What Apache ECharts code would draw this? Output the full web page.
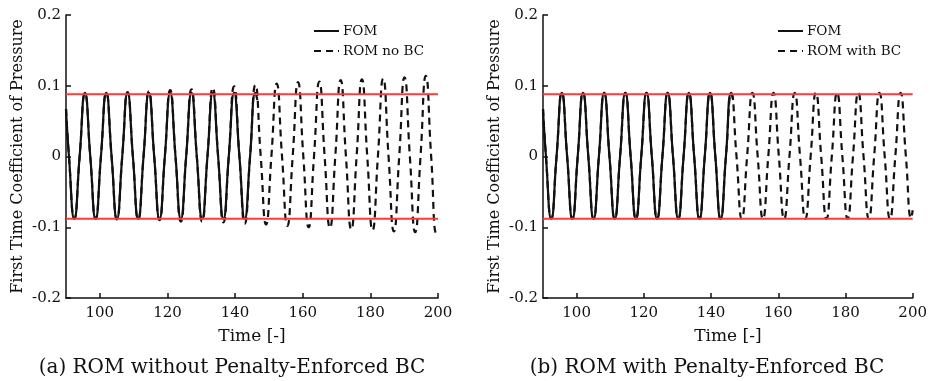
<!DOCTYPE html>
<html>
<head>
<meta charset="utf-8">
<script src="https://cdn.jsdelivr.net/npm/echarts@6/dist/echarts.min.js"></script>
<style>html,body{margin:0;padding:0;background:#fff}#c{width:930px;height:381px}</style>
</head>
<body>
<div id="c"></div>
<script>
// ---- data ----
const xTicks = [100, 120, 140, 160, 180, 200];
const yTicks = [-0.2, -0.1, 0, 0.1, 0.2];
const refLevels = [0.088, -0.088];

const tFom = [90, 90.88,
  92.45, 94.03, 95.6, 97.18,
  98.75, 100.33, 101.9, 103.48,
  105.05, 106.63, 108.2, 109.78,
  111.35, 112.93, 114.5, 116.08,
  117.65, 119.23, 120.8, 122.38,
  123.95, 125.53, 127.1, 128.68,
  130.25, 131.83, 133.4, 134.98,
  136.55, 138.13, 139.7, 141.28,
  142.85, 144.43, 146.0, 146.6];
const fomVals = [0.067, 0,
  -0.088, 0, 0.09, 0,
  -0.088, 0, 0.09, 0,
  -0.088, 0, 0.09, 0,
  -0.088, 0, 0.09, 0,
  -0.088, 0, 0.09, 0,
  -0.088, 0, 0.09, 0,
  -0.088, 0, 0.09, 0,
  -0.088, 0, 0.09, 0,
  -0.088, 0, 0.09, 0.08];

const tRom = [90, 90.88,
  92.45, 94.03, 95.6, 97.18,
  98.75, 100.33, 101.9, 103.48,
  105.05, 106.63, 108.2, 109.78,
  111.35, 112.93, 114.5, 116.08,
  117.65, 119.23, 120.8, 122.38,
  123.95, 125.53, 127.1, 128.68,
  130.25, 131.83, 133.4, 134.98,
  136.55, 138.13, 139.7, 141.28,
  142.85, 144.43, 146.0, 147.58,
  149.15, 150.73, 152.3, 153.88,
  155.45, 157.03, 158.6, 160.18,
  161.75, 163.33, 164.9, 166.48,
  168.05, 169.63, 171.2, 172.78,
  174.35, 175.93, 177.5, 179.08,
  180.65, 182.23, 183.8, 185.38,
  186.95, 188.53, 190.1, 191.68,
  193.25, 194.83, 196.4, 197.98,
  199.55, 200];
const romNoBC = [0.067, 0,
  -0.088, 0, 0.089, 0,
  -0.088, 0, 0.09, 0,
  -0.089, 0, 0.091, 0,
  -0.089, 0, 0.092, 0,
  -0.09, 0, 0.094, 0,
  -0.092, 0, 0.095, 0,
  -0.092, 0, 0.097, 0,
  -0.093, 0, 0.099, 0,
  -0.095, 0, 0.101, 0,
  -0.096, 0, 0.103, 0,
  -0.098, 0, 0.105, 0,
  -0.1, 0, 0.106, 0,
  -0.101, 0, 0.108, 0,
  -0.103, 0, 0.109, 0,
  -0.104, 0, 0.11, 0,
  -0.106, 0, 0.112, 0,
  -0.107, 0, 0.114, 0,
  -0.109, -0.105];
const romWithBC = [0.067, 0,
  -0.088, 0, 0.09, 0,
  -0.088, 0, 0.09, 0,
  -0.088, 0, 0.09, 0,
  -0.088, 0, 0.09, 0,
  -0.088, 0, 0.09, 0,
  -0.088, 0, 0.09, 0,
  -0.088, 0, 0.09, 0,
  -0.088, 0, 0.09, 0,
  -0.088, 0, 0.09, 0,
  -0.088, 0, 0.09, 0,
  -0.088, 0, 0.09, 0,
  -0.088, 0, 0.09, 0,
  -0.088, 0, 0.09, 0,
  -0.088, 0, 0.09, 0,
  -0.088, 0, 0.09, 0,
  -0.088, 0, 0.09, 0,
  -0.088, 0, 0.09, 0,
  -0.087, -0.076];

const yName = 'First Time Coefficient of Pressure';
const xName = 'Time [-]';
const captions = ['(a) ROM without Penalty-Enforced BC', '(b) ROM with Penalty-Enforced BC'];
const legendNames = [['FOM', 'ROM no BC'], ['FOM', 'ROM with BC']];

// ---- chart ----
const FONT = 'DejaVu Serif';
const zip = (t, v) => t.map((x, i) => [x, v[i]]);
const chart = echarts.init(document.getElementById('c'), null, {renderer: 'canvas'});

function xAxis(gi) {
  return {
    type: 'value', gridIndex: gi, min: 90, max: 200,
    name: xName, nameLocation: 'middle', nameGap: 30,
    nameTextStyle: {fontSize: 17, color: '#111', fontFamily: FONT},
    axisLine: {show: true, onZero: false, lineStyle: {color: '#111', width: 1.5}},
    axisTick: {show: true, inside: true, length: 5, customValues: xTicks, lineStyle: {color: '#111', width: 1.5}},
    axisLabel: {customValues: xTicks, fontSize: 15, color: '#111', fontFamily: FONT, margin: 8},
    splitLine: {show: false}
  };
}
function yAxis(gi) {
  return {
    type: 'value', gridIndex: gi, min: -0.2, max: 0.2, interval: 0.1,
    name: yName, nameLocation: 'middle', nameGap: 40,
    nameTextStyle: {fontSize: 16, color: '#111', fontFamily: FONT},
    axisLine: {show: true, onZero: false, lineStyle: {color: '#111', width: 1.5}},
    axisTick: {show: true, inside: true, length: 5, customValues: yTicks, lineStyle: {color: '#111', width: 1.5}},
    axisLabel: {customValues: yTicks, fontSize: 15, color: '#111', fontFamily: FONT, margin: 5,
      formatter: v => String(Math.round(v * 10) / 10)},
    splitLine: {show: false}
  };
}
function curve(name, gi, data, dashed, z) {
  return {
    name, type: 'line', xAxisIndex: gi, yAxisIndex: gi, data,
    symbol: 'none', smooth: 0.55, z: z, silent: true,
    lineStyle: {color: '#111', width: 2.2, type: dashed ? [7, 5] : 'solid'},
    itemStyle: {color: '#111'}
  };
}
function ref(gi, level) {
  return {
    type: 'line', xAxisIndex: gi, yAxisIndex: gi, data: [[90, level], [200, level]],
    symbol: 'none', silent: true, z: 10,
    lineStyle: {color: '#ff3838', width: 2}
  };
}

const grids = [
  {left: 66, top: 15, width: 372, height: 283},
  {left: 543, top: 15, width: 372, height: 283}
];

const series = [
  curve('FOM', 0, zip(tFom, fomVals), false, 3),
  curve('ROM no BC', 0, zip(tRom, romNoBC), true, 2),
  curve('FOM', 1, zip(tFom, fomVals), false, 3),
  curve('ROM with BC', 1, zip(tRom, romWithBC), true, 2),
  ref(0, refLevels[0]), ref(0, refLevels[1]),
  ref(1, refLevels[0]), ref(1, refLevels[1])
];

function legend(left, names) {
  return {
    data: names, orient: 'vertical', left: left, top: 19,
    itemWidth: 25, itemHeight: 14, itemGap: 6, selectedMode: false,
    itemStyle: {opacity: 0},
    textStyle: {fontSize: 13.5, color: '#111', fontFamily: FONT, padding: [0, 0, 0, -1]}
  };
}

chart.setOption({
  animation: false,
  textStyle: {fontFamily: FONT},
  grid: grids,
  xAxis: [xAxis(0), xAxis(1)],
  yAxis: [yAxis(0), yAxis(1)],
  legend: [legend(308, legendNames[0]), legend(772, legendNames[1])],
  series: series,
  graphic: [
    {type: 'text', x: 232, y: 368, style: {text: captions[0], fontSize: 20, fontFamily: FONT, fill: '#111', align: 'center', verticalAlign: 'middle'}},
    {type: 'text', x: 707, y: 368, style: {text: captions[1], fontSize: 20, fontFamily: FONT, fill: '#111', align: 'center', verticalAlign: 'middle'}}
  ]
});
</script>
</body>
</html>
